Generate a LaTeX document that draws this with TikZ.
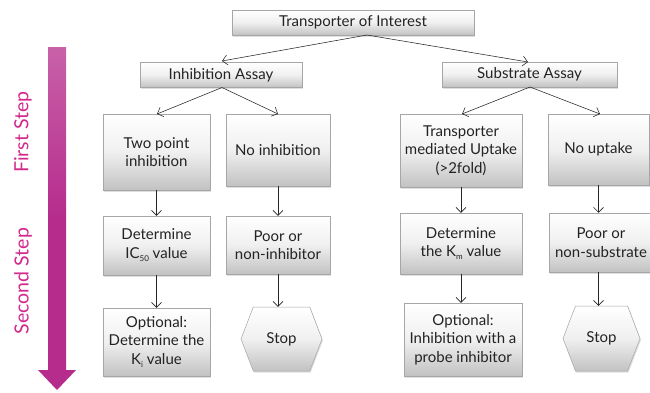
\documentclass[tikz,border=0pt]{standalone}
\usepackage{fontspec}
\setmainfont{Lato}
\usetikzlibrary{arrows.meta,shapes.symbols,shadows}
\definecolor{mag}{RGB}{182,44,140}
\definecolor{magtxt}{RGB}{212,40,140}
\definecolor{boxline}{RGB}{165,165,170}
\definecolor{txt}{RGB}{35,35,35}
\newcommand{\lowsub}[1]{\raisebox{-0.45ex}{\fontsize{8}{8}\selectfont #1}}
\tikzset{
  box/.style={draw=boxline, line width=0.5pt, top color=white, bottom color=black!24,
    middle color=black!6, drop shadow={shadow xshift=1pt, shadow yshift=-1.5pt, opacity=0.25},
    align=center, font=\fontsize{15}{18.5}\selectfont, text=txt, inner sep=1pt},
  hexa/.style={box, signal, signal to=east and west, signal pointer angle=138},
  con/.style={-{Straight Barb[length=5pt,width=10pt]}, line width=0.55pt, black!85},
  steplabel/.style={rotate=90, text=magtxt, font=\fontsize{19.5}{22}\selectfont}
}
\begin{document}
\begin{tikzpicture}[x=1pt,y=-1pt]
\useasboundingbox (0,0) rectangle (650,392);
\fill[white] (0,0) rectangle (650,392);
% big arrow
\shade[top color=mag!75, bottom color=mag, middle color=mag] (48,47) -- (66,47) -- (66,370) -- (76,370) -- (57,390) -- (38,370) -- (48,370) -- cycle;
\node[steplabel] (s1) at (23,132) {First Step};
\node[steplabel] (s2) at (23,281) {Second Step};
% nodes
\node[box, minimum width=242, minimum height=25] (top) at (353,22.5) {Transporter of Interest};
\node[box, minimum width=162, minimum height=25] (inh) at (221,75) {Inhibition Assay};
\node[box, minimum width=175, minimum height=25] (sub) at (529.5,74.5) {Substrate Assay};
\node[box, minimum width=107, minimum height=76] (tpi) at (156.5,152) {Two point\\inhibition};
\node[box, minimum width=104, minimum height=72] (noi) at (278,150) {No inhibition};
\node[box, minimum width=122, minimum height=73] (tmu) at (461,150.5) {Transporter\\mediated Uptake\\(>2fold)};
\node[box, minimum width=101, minimum height=71] (nou) at (598.5,149.5) {No uptake};
\node[box, minimum width=107, minimum height=59] (ic) at (156.5,245.5) {Determine\\IC\lowsub{50} value};
\node[box, minimum width=104, minimum height=58] (pni) at (278,245) {Poor or\\non-inhibitor};
\node[box, minimum width=122, minimum height=61] (km) at (461,243.5) {Determine\\the K\lowsub{m} value};
\node[box, minimum width=104, minimum height=59] (pns) at (601,242.5) {Poor or\\non-substrate};
\node[box, minimum width=107, minimum height=68] (ki) at (156.5,342) {Optional:\\Determine the\\K\lowsub{i} value};
\node[hexa, minimum width=81, minimum height=64] (st1) at (281.5,339) {Stop};
\node[box, minimum width=118, minimum height=73] (pr) at (463,339.5) {Optional:\\Inhibition with a\\probe inhibitor};
\node[hexa, minimum width=77, minimum height=65] (st2) at (601.5,338.5) {Stop};
% connectors
\coordinate (topo) at (367,35);
\coordinate (inho) at (222,87.5);
\coordinate (subo) at (530,87);
\draw[con] (topo) -- (222,61) coordinate (inhi);
\draw[con] (topo) -- (528,62) coordinate (subi);
\draw[con] (inho) -- (157,114);
\draw[con] (inho) -- (278,114);
\draw[con] (subo) -- (462,114);
\draw[con] (subo) -- (600,114);
\draw[con] (tpi.south) -- (ic.north);
\draw[con] (noi.south) -- (pni.north);
\draw[con] (tmu.south) -- (km.north);
\draw[con] (nou.south) -- (nou.south |- pns.north);
\draw[con] (ic.south) -- (ki.north);
\draw[con] (pni.south) -- (pni.south |- st1.north);
\draw[con] (km.south) -- (km.south |- pr.north);
\draw[con] (nou.south |- pns.south) -- (nou.south |- st2.north);
\end{tikzpicture}
\end{document}
